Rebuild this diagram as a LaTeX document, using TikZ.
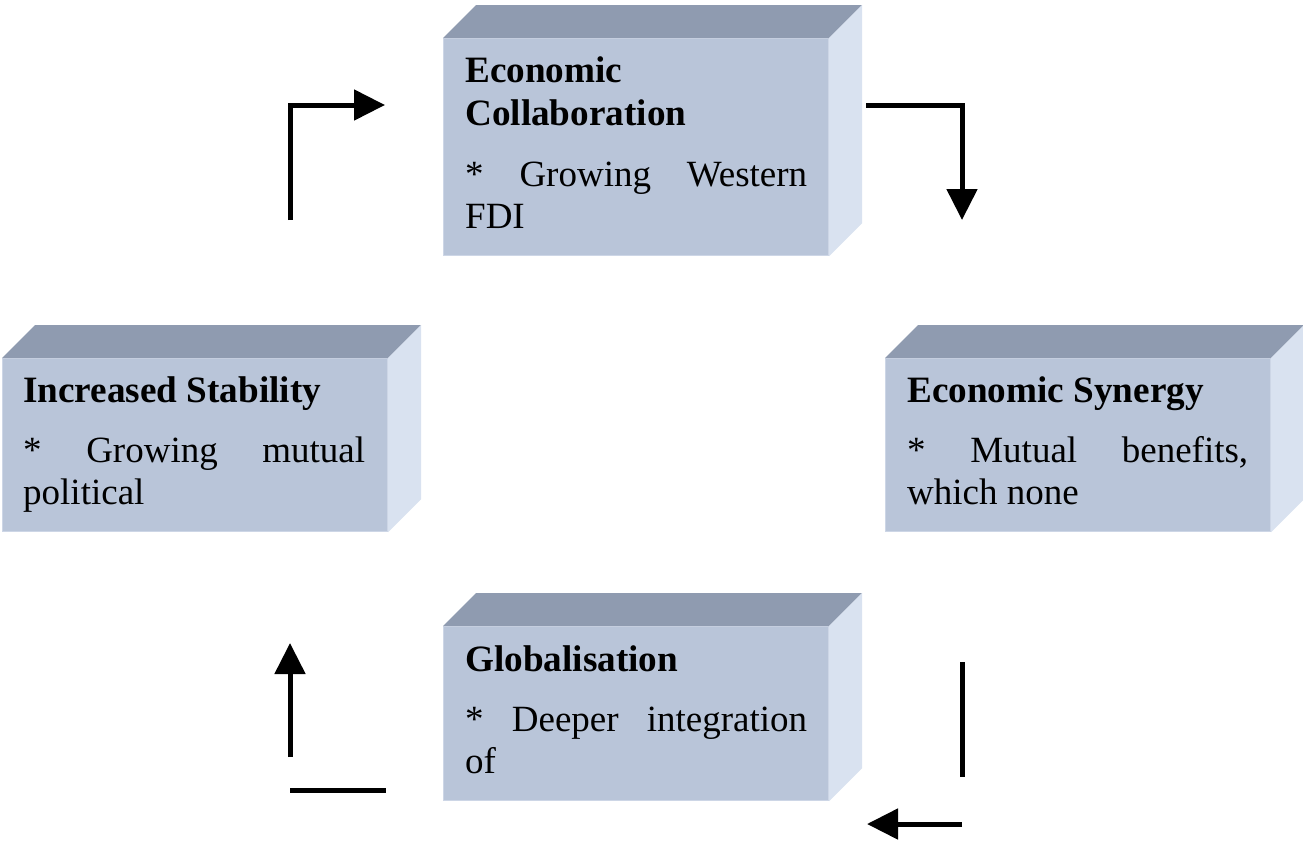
\documentclass[tikz,border=0pt]{standalone}
\usepackage{fontspec}
\setmainfont{Liberation Serif}
\usetikzlibrary{arrows.meta,calc}
\definecolor{topc}{HTML}{8F9BB0}
\definecolor{frontc}{HTML}{B9C5D9}
\definecolor{sidec}{HTML}{D9E2F0}
\definecolor{edgec}{HTML}{CDD6E6}
\tikzset{
  front/.style={draw=edgec, line width=1.2pt, fill=frontc, rectangle, inner sep=0pt, anchor=north west, minimum width=385pt},
  ttl/.style={anchor=base west, inner sep=0pt, font=\fontsize{37.2}{42}\selectfont\bfseries},
  bdy/.style={anchor=base west, inner sep=0pt, font=\fontsize{37}{42}\selectfont},
  arr/.style={line width=5pt, -{Triangle[length=31pt,width=30pt]}},
  ln/.style={line width=5pt}
}
\newcommand\cubebox[4]{% name, x, y, height
  \node[front, minimum height=#4pt] (#1) at (#2,#3) {};
  \fill[topc] (#1.north west) -- ++(33,-33) -- ($(#1.north east)+(33,-33)$) -- (#1.north east) -- cycle;
  \fill[sidec] (#1.north east) -- ++(33,-33) -- ($(#1.south east)+(33,-33)$) -- (#1.south east) -- cycle;
}
\begin{document}
\begin{tikzpicture}[x=1pt,y=-1pt]
\useasboundingbox (0,0) rectangle (1303,841);
\cubebox{ec}{443}{38}{217}
\cubebox{is}{2}{358}{173}
\cubebox{es}{885}{358}{173}
\cubebox{gl}{443}{626}{174}
% texts
\node[ttl] (ec1) at (465,82) {Economic};
\node[ttl] (ec2) at (465,125) {Collaboration};
\node[bdy] (ec3) at (465,186) {\makebox[342pt][s]{* Growing Western}};
\node[bdy] (ec4) at (465,228) {FDI};
\node[ttl] (is1) at (23,402) {Increased Stability};
\node[bdy] (is2) at (23,462) {\makebox[342pt][s]{* Growing mutual}};
\node[bdy] (is3) at (23,504) {political};
\node[ttl] (es1) at (907,402) {Economic Synergy};
\node[bdy] (es2) at (907,462) {\makebox[341pt][s]{* Mutual benefits,}};
\node[bdy] (es3) at (907,504) {which none};
\node[ttl] (gl1) at (465,671) {Globalisation};
\node[bdy] (gl2) at (465,731) {\makebox[342pt][s]{* Deeper integration}};
\node[bdy] (gl3) at (465,773) {of};
% connectors
\coordinate (a1s) at (290,220);
\coordinate (a1c) at (290,105);
\coordinate (a1e) at (385,105);
\draw[arr] (a1s) -- (a1c) -- (a1e);
\coordinate (a2s) at (866,105);
\coordinate (a2c) at (962,105);
\coordinate (a2e) at (962,220);
\draw[arr] (a2s) -- (a2c) -- (a2e);
\coordinate (a3s) at (962,662);
\coordinate (a3e) at (962,777);
\draw[ln] (a3s) -- (a3e);
\coordinate (a4s) at (962,824);
\coordinate (a4e) at (867,824);
\draw[arr] (a4s) -- (a4e);
\coordinate (a5s) at (290,790);
\coordinate (a5e) at (386,790);
\draw[ln] (a5s) -- (a5e);
\coordinate (a6s) at (290,757);
\coordinate (a6e) at (290,643);
\draw[arr] (a6s) -- (a6e);
\end{tikzpicture}
\end{document}
